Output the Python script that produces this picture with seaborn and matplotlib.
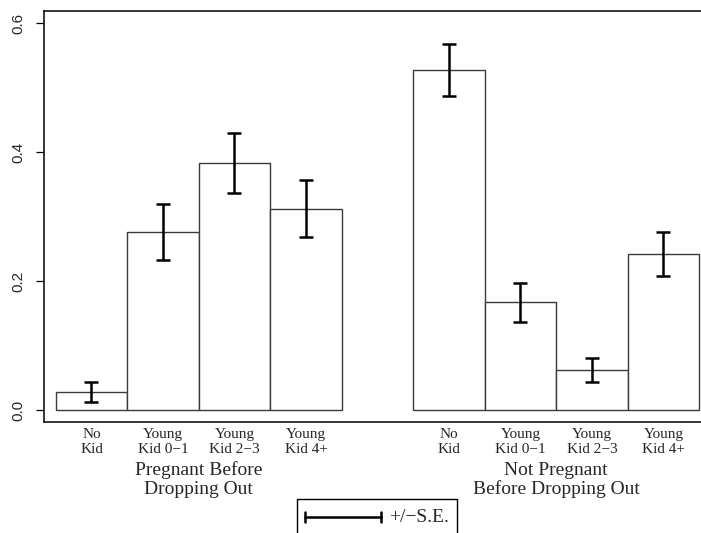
import numpy as np
import pandas as pd
import seaborn as sns
import matplotlib.pyplot as plt
from matplotlib.patches import Rectangle
from matplotlib.lines import Line2D

groups = ["Pregnant Before\nDropping Out", "Not Pregnant\nBefore Dropping Out"]
categories = ["No\nKid", "Young\nKid 0\u22121", "Young\nKid 2\u22123", "Young\nKid 4+"]
pregnant_vals = [0.028, 0.276, 0.383, 0.312]
pregnant_se = [0.015, 0.043, 0.047, 0.044]
not_pregnant_vals = [0.527, 0.167, 0.062, 0.242]
not_pregnant_se = [0.040, 0.030, 0.019, 0.034]
y_ticks = [0.0, 0.2, 0.4, 0.6]

sns.set_theme(style="white")
plt.rcParams["font.family"] = ["Liberation Serif", "DejaVu Serif"]

rows = []
for gi, (vals, ses) in enumerate([(pregnant_vals, pregnant_se),
                                  (not_pregnant_vals, not_pregnant_se)]):
    for ci, (v, s) in enumerate(zip(vals, ses)):
        rows.append({"group": groups[gi], "category": categories[ci],
                     "pos": gi * (len(categories) + 1) + ci,
                     "value": v, "se": s})
df = pd.DataFrame(rows)

W, H = 701, 533
fig = plt.figure(figsize=(W / 100, H / 100), dpi=100)
ax = fig.add_axes([44 / W, (H - 422) / H, (W - 44) / W, (422 - 11) / H])

sns.barplot(data=df, x="pos", y="value", native_scale=True, width=1.0,
            color="white", edgecolor="#3a3a3a", linewidth=1.0,
            errorbar=None, ax=ax)
for p in ax.patches:
    p.set_facecolor("white")

ax.errorbar(df["pos"], df["value"], yerr=df["se"], fmt="none",
            ecolor="black", elinewidth=1.8, capsize=4.8, capthick=1.8)

ax.set_xlim(-0.664, (W - 91.5) / 71.5)
ax.set_ylim(-0.0186, 0.6186)

ax.set_yticks(y_ticks)
ax.set_yticklabels([f"{t:.1f}" for t in y_ticks], family="Liberation Sans",
                   fontsize=11, rotation=90, va="center")
ax.tick_params(axis="y", direction="out", length=5.5, width=0.9,
               color="black", pad=8, left=True)

ax.set_xticks(df["pos"])
ax.set_xticklabels(df["category"], fontsize=11, linespacing=1.22)
ax.tick_params(axis="x", length=0, pad=4.5)
ax.set_xlabel("")
ax.set_ylabel("")

for gi, g in enumerate(groups):
    center = df.loc[df["group"] == g, "pos"].mean()
    ax.annotate(g, xy=(center, 0), xycoords=("data", "axes fraction"),
                xytext=(0, -28.5), textcoords="offset points",
                ha="center", va="top", fontsize=14, linespacing=1.1)

for side in ["left", "top", "bottom"]:
    ax.spines[side].set_visible(True)
    ax.spines[side].set_color("black")
    ax.spines[side].set_linewidth(1.1)
ax.spines["right"].set_visible(False)

# standard-error key below the plot
fig.patches.append(Rectangle((297 / W, 1 - 545 / H), (457 - 297) / W, 46 / H,
                             transform=fig.transFigure, fill=False,
                             edgecolor="black", linewidth=1.0))
ky = 1 - 517 / H
fig.add_artist(Line2D([305 / W, 381 / W], [ky, ky], transform=fig.transFigure,
                      color="black", linewidth=1.8))
for kx in (305, 381):
    fig.add_artist(Line2D([kx / W, kx / W], [ky - 5 / H, ky + 5 / H],
                          transform=fig.transFigure, color="black",
                          linewidth=1.8))
fig.text(389 / W, ky, "+/\u2212S.E.", fontsize=14, va="center", ha="left")

fig.savefig("out.png", dpi=100)
